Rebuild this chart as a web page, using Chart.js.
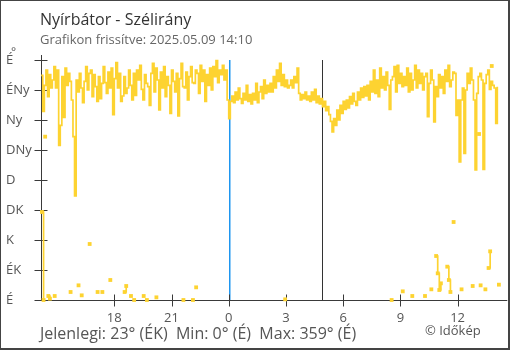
<!DOCTYPE html>
<html><head><meta charset="utf-8">
<script src="https://cdn.jsdelivr.net/npm/chart.js@4/dist/chart.umd.min.js"></script>
<style>html,body{margin:0;padding:0;background:#fff}canvas{display:block}</style>
</head><body>
<canvas id="c" width="510" height="350"></canvas>
<script>
const titleText = 'Nyírbátor - Szélirány';
const subtitleText = 'Grafikon frissítve: 2025.05.09 14:10';
const footerText = 'Jelenlegi: 23° (ÉK)  Min: 0° (É)  Max: 359° (É)';
const creditText = '© Időkép';

// time axis: hours relative to midnight; readings start 14:10 on the previous day
const startHour = -(9 + 50 / 60);
const stepMinutes = 5;

// main wind direction readings (degrees), every 5 minutes from 14:10, one row per hour
const windDir = [
  337, 283, 322, 345, 305, 338, 318, 330, 350, 318, 345, 232,
  262, 335, 274, 348, 322, 340, 328, 300, 245, 156, 330, 312,
  340, 318, 296, 328, 350, 315, 340, 345, 305, 338, 320, 298,
  335, 302, 325, 350, 326, 310, 342, 318, 348, 278, 332, 356,
  318, 340, 298, 306, 335, 310, 318, 345, 322, 300, 340, 307,
  345, 330, 352, 316, 300, 338, 325, 320, 292, 340, 355, 312,
  348, 330, 285, 342, 318, 350, 305, 335, 322, 280, 345, 328,
  312, 340, 276, 332, 355, 320, 318, 342, 300, 335, 350, 326,
  325, 345, 340, 310, 352, 328, 345, 298, 338, 322, 348, 315,
  350, 335, 359, 326, 345, 338, 352, 330, 345, 300, 272, 298,
  306, 296, 312, 300, 318, 302, 295, 310, 300, 322, 298, 308,
  294, 310, 300, 325, 296, 312, 320, 302, 330, 310, 322, 312,
  325, 312, 335, 318, 345, 328, 355, 322, 338, 320, 330, 318,
  322, 330, 318, 335, 326, 348, 310, 300, 308, 302, 312, 300,
  306, 298, 312, 300, 316, 296, 306, 294, 302, 290, 298, 284,
  290, 278, 268, 252, 272, 262, 285, 270, 292, 280, 298, 286,
  300, 288, 305, 294, 310, 298, 292, 312, 300, 318, 304, 320,
  306, 322, 300, 328, 312, 345, 310, 330, 305, 348, 318, 335,
  315, 342, 322, 286, 330, 335, 350, 312, 352, 325, 340, 320,
  335, 322, 348, 312, 340, 315, 330, 352, 318, 345, 325, 340,
  315, 335, 340, 275, 325, 345, 330, 267, 320, 305, 338, 318,
  335, 310, 345, 328, 352, 320, 330, 342, 340, 277, 300, 207,
  300, 318, 220, 315, 340, 325, 348, 330, 300, 195, 310, 335,
  340, 330, 196, 325, 338, 345, 316, 328, 322, 318, 265, 320
];

// readings that wrapped past north (and other outliers), minutes after 14:10; null splits runs
const wrapMinute = [
  2.5, 7.5, null, 12.5, null, 22.5, 27.5, null, 42.5, null,
  92.5, null, 117.5, null, 127.5, null, 152.5, null, 177.5, null,
  192.5, null, 217.5, null, 262.5, 267.5, null, 282.5, null, 292.5, null,
  322.5, null, 332.5, null, 362.5, null, 447.5, null, 477.5, null, 487.5, null,
  767.5, null, 1102.5, null, 1137.5, null, 1167.5, null, 1207.5, null, 1227.5, null,
  1242.5, 1247.5, 1252.5, 1257.5, null, 1277.5, 1282.5, 1287.5, null, 1297.5, null,
  1322.5, null, 1357.5, null, 1377.5, null, 1382.5, null, 1397.5, null,
  1407.5, 1412.5, null, 1417.5, null, 1440
];
const wrapDir = [
  132, 0, null, 245, null, 6, 2, null, 6, null,
  12, null, 22, null, 7, null, 84, null, 12, null,
  12, null, 30, null, 12, 21, null, 6, null, 0, null,
  6, null, 0, null, 4, null, 0, null, 0, null, 19, null,
  1, null, 0, null, 13, null, 6, null, 6, null, 16, null,
  66, 40, 15, 25, null, 50, 30, 12, null, 117, null,
  16, null, 21, null, 249, null, 22, null, 16, null,
  48, 73, null, 351, null, 23
];

const yTickValues = [0, 45, 90, 135, 180, 225, 270, 315, 360];
const yTickLabels = ['É', 'ÉK', 'K', 'DK', 'D', 'DNy', 'Ny', 'ÉNy', 'É'];
const xTickValues = [-6, -3, 0, 3, 6, 9, 12];
const xTickLabels = ['18', '21', '0', '3', '6', '9', '12'];
const midnightHour = 0;
const sunriseHour = 4 + 55 / 60;

const toHour = m => startHour + m / 60;
const mainPoints = windDir.map((v, i) => ({ x: toHour(i * stepMinutes), y: v }));
const wrapPoints = wrapMinute.map((m, i) => ({ x: m == null ? null : toHour(m), y: wrapDir[i] }))
  .map((p, i, arr) => p.x == null ? { x: arr[i - 1].x + 0.01, y: null } : p);

const FONT = '"Open Sans", "Noto Sans", sans-serif';
const YELLOW = '#fdd331';
const BLUE = 'rgb(30, 150, 240)';
const DARK = 'rgb(51, 51, 51)';

const decor = {
  id: 'decor',
  beforeDatasetsDraw(chart) {
    const { ctx, chartArea: a, scales: { x, y } } = chart;
    ctx.save();
    const yTop = y.getPixelForValue(360), yBot = y.getPixelForValue(0);
    const markers = [[midnightHour, BLUE], [sunriseHour, DARK]];
    for (const [h, c] of markers) {
      const px = Math.round(x.getPixelForValue(h));
      ctx.fillStyle = c;
      ctx.fillRect(px, yTop, c === BLUE ? 1.5 : 1, yBot - yTop);
    }
    ctx.strokeStyle = '#3a3a3a'; ctx.lineWidth = 1;
    const ax = Math.round(a.left) + 0.5, ay = Math.round(a.bottom) + 0.5;
    ctx.beginPath();
    ctx.moveTo(ax, a.top); ctx.lineTo(ax, ay); ctx.lineTo(a.right, ay);
    yTickValues.forEach(v => {
      const py = Math.round(y.getPixelForValue(v)) + 0.5;
      ctx.moveTo(ax - 7, py); ctx.lineTo(ax + 6, py);
    });
    xTickValues.forEach(v => {
      const px = Math.round(x.getPixelForValue(v)) + 0.5;
      ctx.moveTo(px, ay - 6); ctx.lineTo(px, ay + 6);
    });
    ctx.stroke();
    ctx.restore();
  },
  afterDraw(chart) {
    const { ctx, width, height } = chart;
    ctx.save();
    ctx.textBaseline = 'alphabetic';
    ctx.textAlign = 'left';
    ctx.fillStyle = '#333';
    ctx.font = '16px ' + FONT;
    ctx.fillText(titleText, 40, 25);
    ctx.fillStyle = '#666';
    ctx.font = '13px ' + FONT;
    ctx.fillText(subtitleText, 40, 44);
    ctx.fillStyle = '#555';
    ctx.font = '12px ' + FONT;
    ctx.fillText('°', 11, 56);
    ctx.font = '16px ' + FONT;
    ctx.fillText(footerText, 40, 339);
    ctx.font = '13px ' + FONT;
    ctx.fillText(creditText, 425, 335);
    ctx.fillStyle = '#444';
    ctx.fillRect(0, 0, width, 1);
    ctx.fillRect(0, 0, 1, height);
    ctx.fillRect(width - 2, 0, 2, height);
    ctx.fillRect(0, height - 2, width, 2);
    ctx.restore();
  }
};

const common = {
  borderColor: YELLOW, backgroundColor: YELLOW, borderWidth: 1.7,
  stepped: true, clip: false, pointStyle: 'rect', pointBorderWidth: 0,
  pointBackgroundColor: YELLOW, pointHoverRadius: 0, spanGaps: false
};

new Chart(document.getElementById('c'), {
  type: 'line',
  data: {
    datasets: [
      Object.assign({ data: mainPoints, pointRadius: 0 }, common),
      Object.assign({ data: wrapPoints, pointRadius: 2.7 }, common)
    ]
  },
  options: {
    responsive: false,
    animation: false,
    events: [],
    layout: { padding: { left: 6, right: 2, top: 55, bottom: 0 } },
    plugins: { legend: { display: false }, tooltip: { enabled: false }, title: { display: false } },
    scales: {
      x: {
        type: 'linear', min: -9.843, max: 14.607,
        grid: { display: false, drawTicks: false, tickLength: 0 },
        border: { display: false },
        afterBuildTicks: s => { s.ticks = xTickValues.map(v => ({ value: v })); },
        afterFit: s => { s.height = 50; },
        ticks: {
          autoSkip: false, maxRotation: 0, minRotation: 0, padding: 10,
          color: '#555', font: { family: FONT, size: 13 },
          callback: (v, i) => xTickLabels[i]
        }
      },
      y: {
        min: 0, max: 367.5,
        grid: { display: false, drawTicks: false, tickLength: 0 },
        border: { display: false },
        afterBuildTicks: s => { s.ticks = yTickValues.map(v => ({ value: v })); },
        afterFit: s => { s.width = 35; },
        ticks: {
          crossAlign: 'far', padding: 0,
          color: '#555', font: { family: FONT, size: 13 },
          callback: (v, i) => yTickLabels[i]
        }
      }
    }
  },
  plugins: [decor]
});
</script>
</body></html>
